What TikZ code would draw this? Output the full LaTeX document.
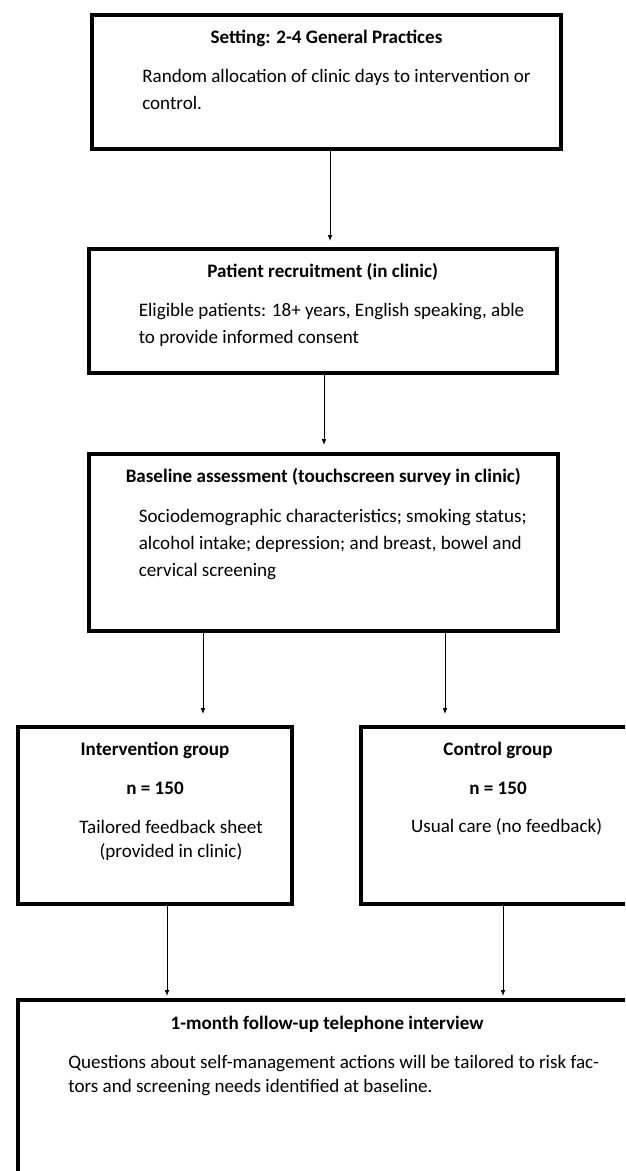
\documentclass[tikz,border=0pt]{standalone}
\usepackage{fontspec}
\setmainfont{Carlito}
\usetikzlibrary{arrows.meta,positioning}

\begin{document}
\begin{tikzpicture}[x=.75pt,y=-.75pt,
  bx/.style={draw,line width=3pt,inner sep=0pt},
  ttl/.style={font=\fontsize{14.3}{17}\selectfont\bfseries,anchor=base,inner sep=0pt},
  txt/.style={font=\fontsize{14.3}{20.25}\selectfont,align=left,anchor=base west,
    inner sep=0pt},
  ctxt/.style={font=\fontsize{14.3}{18}\selectfont,align=center,anchor=base,
    inner sep=0pt},
  f/.style={-{Latex[length=4.5pt,width=3.5pt]},line width=.6pt}]
\useasboundingbox (0,0) rectangle (625,1171);
\clip (0,0) rectangle (625,1171);
\node[bx,minimum width=351.75pt,minimum height=100.5pt] (setting) at (326.5,82) {};
\node[bx,minimum width=351.4pt,minimum height=93pt,below=72pt of setting,
  xshift=-2.8pt] (recruit) {};
\node[bx,minimum width=352.1pt,minimum height=132.75pt,below=57.75pt of recruit,
  xshift=.4pt] (baseline) {};
\node[bx,minimum width=205.5pt,minimum height=132.75pt,below=69pt of baseline,
  xshift=-126.2pt] (interv) {};
\node[bx,minimum width=205.5pt,minimum height=132.75pt,right=48.75pt of interv] (control) {};
\node[bx,minimum width=463.5pt,minimum height=187.5pt,below=69pt of interv.south west,
  anchor=north west] (followup) {};
% texts (base = last line)
\node[ttl] (settingttl) at ([yshift=-22.5pt]setting.north) {Setting: 2-4 General Practices};
\node[txt] (settingtxt) at ([xshift=39pt,yshift=-72pt]setting.north west)
  {Random allocation of clinic days to intervention or\\control.};
\node[ttl] (recruitttl) at ([yshift=-22.5pt]recruit.north) {Patient recruitment (in clinic)};
\node[txt] (recruittxt) at ([xshift=39pt,yshift=-72pt]recruit.north west)
  {Eligible patients: 18+ years, English speaking, able\\to provide informed consent};
\node[ttl] (baselinettl) at ([yshift=-22.5pt]baseline.north)
  {Baseline assessment (touchscreen survey in clinic)};
\node[txt] (baselinetxt) at ([xshift=39pt,yshift=-93pt]baseline.north west)
  {Sociodemographic characteristics; smoking status;\\alcohol intake; depression; and breast, bowel and\\cervical screening};
\node[ttl] (intervttl) at ([yshift=-22.5pt]interv.north) {Intervention group};
\node[ttl] (intervn) at ([yshift=-52pt]interv.north) {n = 150};
\node[ctxt] (intervtxt) at ([xshift=12pt,yshift=-99pt]interv.north)
  {Tailored feedback sheet\\(provided in clinic)};
\node[ttl] (controlttl) at ([yshift=-22.5pt]control.north) {Control group};
\node[ttl] (controln) at ([yshift=-52pt]control.north) {n = 150};
\node[ctxt] (controltxt) at ([xshift=6.4pt,yshift=-80.6pt]control.north)
  {Usual care (no feedback)};
\node[ttl] (followupttl) at ([yshift=-23.3pt]followup.north)
  {1-month follow-up telephone interview};
\node[txt,font=\fontsize{14.3}{18.3}\selectfont] (followuptxt)
  at ([xshift=39pt,yshift=-71pt]followup.north west)
  {Questions about self-management actions will be tailored to risk fac-\\tors and screening needs identified at baseline.};
% arrows
\draw[f,shorten >=4.5pt] (setting.south -| 330,0) -- (recruit.north -| 330,0);
\draw[f,shorten >=5.25pt] (recruit.south -| 324,0) -- (baseline.north -| 324,0);
\draw[f,shorten >=8.25pt] (baseline.south -| 203,0) -- (interv.north -| 203,0);
\draw[f,shorten >=8.25pt] (baseline.south -| 445,0) -- (control.north -| 445,0);
\draw[f,shorten >=1.5pt] (interv.south -| 167,0) -- (followup.north -| 167,0);
\draw[f,shorten >=1.5pt] (control.south -| 503,0) -- (followup.north -| 503,0);
\end{tikzpicture}
\end{document}
